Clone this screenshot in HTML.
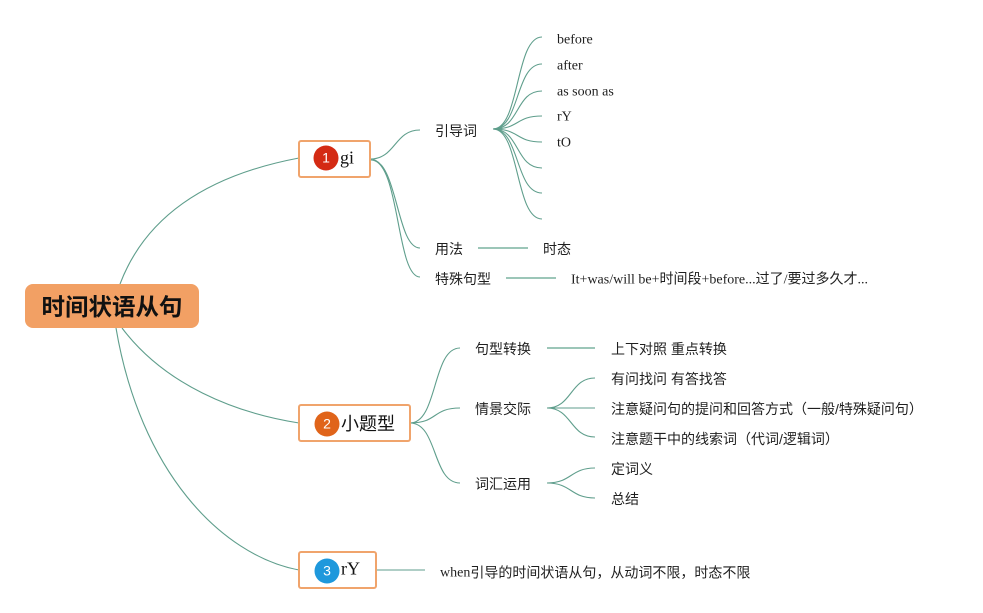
<!DOCTYPE html>
<html><head><meta charset="utf-8"><style>
html,body{margin:0;padding:0;background:#fff;}
svg{display:block;}
.cn{font-family:"Liberation Sans","Noto Sans CJK SC",sans-serif;font-size:14px;fill:#1f1f1f;}
.en{font-family:"Liberation Serif","Noto Sans CJK SC",serif;font-size:14px;fill:#1f1f1f;}
</style></head><body>
<svg width="983" height="613" viewBox="0 0 983 613" xmlns="http://www.w3.org/2000/svg">
<rect width="983" height="613" fill="#fff"/>
<g fill="none" stroke="#5f9e8c" stroke-width="1.1">
<path d="M120,284 C150,205 225,172 299,158"/>
<path d="M122,328 C165,385 235,413 299,423"/>
<path d="M116,328 C140,470 220,555 299,570"/>
<path d="M370,159 C396,159 394,130 420,130"/>
<path d="M370,159 C398,159 396,248 420,248"/>
<path d="M371,160 C400,160 396,277 420,277"/>
<path d="M493,129 C520,129 515,37 542,37"/>
<path d="M493,129 C520,129 515,64 542,64"/>
<path d="M493,129 C520,129 515,91 542,91"/>
<path d="M493,129 C520,129 515,116 542,116"/>
<path d="M493,129 C520,129 515,142 542,142"/>
<path d="M493,129 C520,129 515,168 542,168"/>
<path d="M493,129 C520,129 515,193 542,193"/>
<path d="M493,129 C520,129 515,219 542,219"/>
<path d="M410,423 C438,423 432,348 460,348"/>
<path d="M410,423 C438,423 432,408 460,408"/>
<path d="M410,423 C438,423 432,483 460,483"/>
<path d="M547,408 C572,408 570,378 595,378"/>
<path d="M547,408 L595,408"/>
<path d="M547,408 C572,408 570,437 595,437"/>
<path d="M547,483 C572,483 570,468 595,468"/>
<path d="M547,483 C572,483 570,498 595,498"/>
<path d="M376,570 L425,570"/>
</g>
<g stroke="#9cc6b8" stroke-width="2" fill="none">
<path d="M478,248 L528,248"/>
<path d="M506,278 L556,278"/>
<path d="M547,348 L595,348"/>
</g>

<rect x="25" y="284" width="174" height="44" rx="8" fill="#f2a064"/>
<text x="112" y="309" text-anchor="middle" dominant-baseline="middle" font-family="'Liberation Sans','Noto Sans CJK SC',sans-serif" font-weight="bold" font-size="23.5" fill="#111">时间状语从句</text>

<rect x="299" y="141" width="71" height="36" rx="2" fill="#fff" stroke="#f0a46c" stroke-width="2"/>
<circle cx="326" cy="158" r="12.5" fill="#d42a13"/>
<text x="326" y="159" text-anchor="middle" dominant-baseline="middle" font-family="'Liberation Sans',sans-serif" font-size="14" fill="#fff">1</text>
<text x="340" y="159.5" dominant-baseline="middle" font-family="'Liberation Serif',serif" font-size="18" fill="#111">gi</text>

<rect x="299" y="405" width="111" height="36" rx="2" fill="#fff" stroke="#f0a46c" stroke-width="2"/>
<circle cx="327" cy="424" r="12.5" fill="#e0641a"/>
<text x="327" y="425" text-anchor="middle" dominant-baseline="middle" font-family="'Liberation Sans',sans-serif" font-size="14" fill="#fff">2</text>
<text x="341" y="425" dominant-baseline="middle" font-family="'Liberation Sans','Noto Sans CJK SC',sans-serif" font-size="18" fill="#111">小题型</text>

<rect x="299" y="552" width="77" height="36" rx="2" fill="#fff" stroke="#f0a46c" stroke-width="2"/>
<circle cx="327" cy="571" r="12.5" fill="#1e98dc"/>
<text x="327" y="572" text-anchor="middle" dominant-baseline="middle" font-family="'Liberation Sans',sans-serif" font-size="14" fill="#fff">3</text>
<text x="341" y="570.5" dominant-baseline="middle" font-family="'Liberation Serif',serif" font-size="18" fill="#111">rY</text>

<g transform="translate(0,1.5)">
<text class="cn" x="435" y="131" dominant-baseline="middle">引导词</text>
<text class="cn" x="435" y="249" dominant-baseline="middle">用法</text>
<text class="cn" x="435" y="279" dominant-baseline="middle">特殊句型</text>
<text class="cn" x="543" y="249" dominant-baseline="middle">时态</text>
<text class="en" x="571" y="279" dominant-baseline="middle">It+was/will be+时间段+before...过了/要过多久才...</text>

<text class="en" x="557" y="39" dominant-baseline="middle">before</text>
<text class="en" x="557" y="65" dominant-baseline="middle">after</text>
<text class="en" x="557" y="91" dominant-baseline="middle">as soon as</text>
<text class="en" x="557" y="116" dominant-baseline="middle">rY</text>
<text class="en" x="557" y="142" dominant-baseline="middle">tO</text>

<text class="cn" x="475" y="349" dominant-baseline="middle">句型转换</text>
<text class="cn" x="475" y="409" dominant-baseline="middle">情景交际</text>
<text class="cn" x="475" y="484" dominant-baseline="middle">词汇运用</text>
<text class="cn" x="611" y="349" dominant-baseline="middle">上下对照 重点转换</text>
<text class="cn" x="611" y="379" dominant-baseline="middle">有问找问 有答找答</text>
<text class="cn" x="611" y="409" dominant-baseline="middle">注意疑问句的提问和回答方式（一般/特殊疑问句）</text>
<text class="cn" x="611" y="439" dominant-baseline="middle">注意题干中的线索词（代词/逻辑词）</text>
<text class="cn" x="611" y="469" dominant-baseline="middle">定词义</text>
<text class="cn" x="611" y="499" dominant-baseline="middle">总结</text>

<text class="en" x="440" y="572" dominant-baseline="middle">when<tspan font-family="'Liberation Sans','Noto Sans CJK SC',sans-serif">引导的时间状语从句，从动词不限，时态不限</tspan></text>
</g>
</svg>
</body></html>
